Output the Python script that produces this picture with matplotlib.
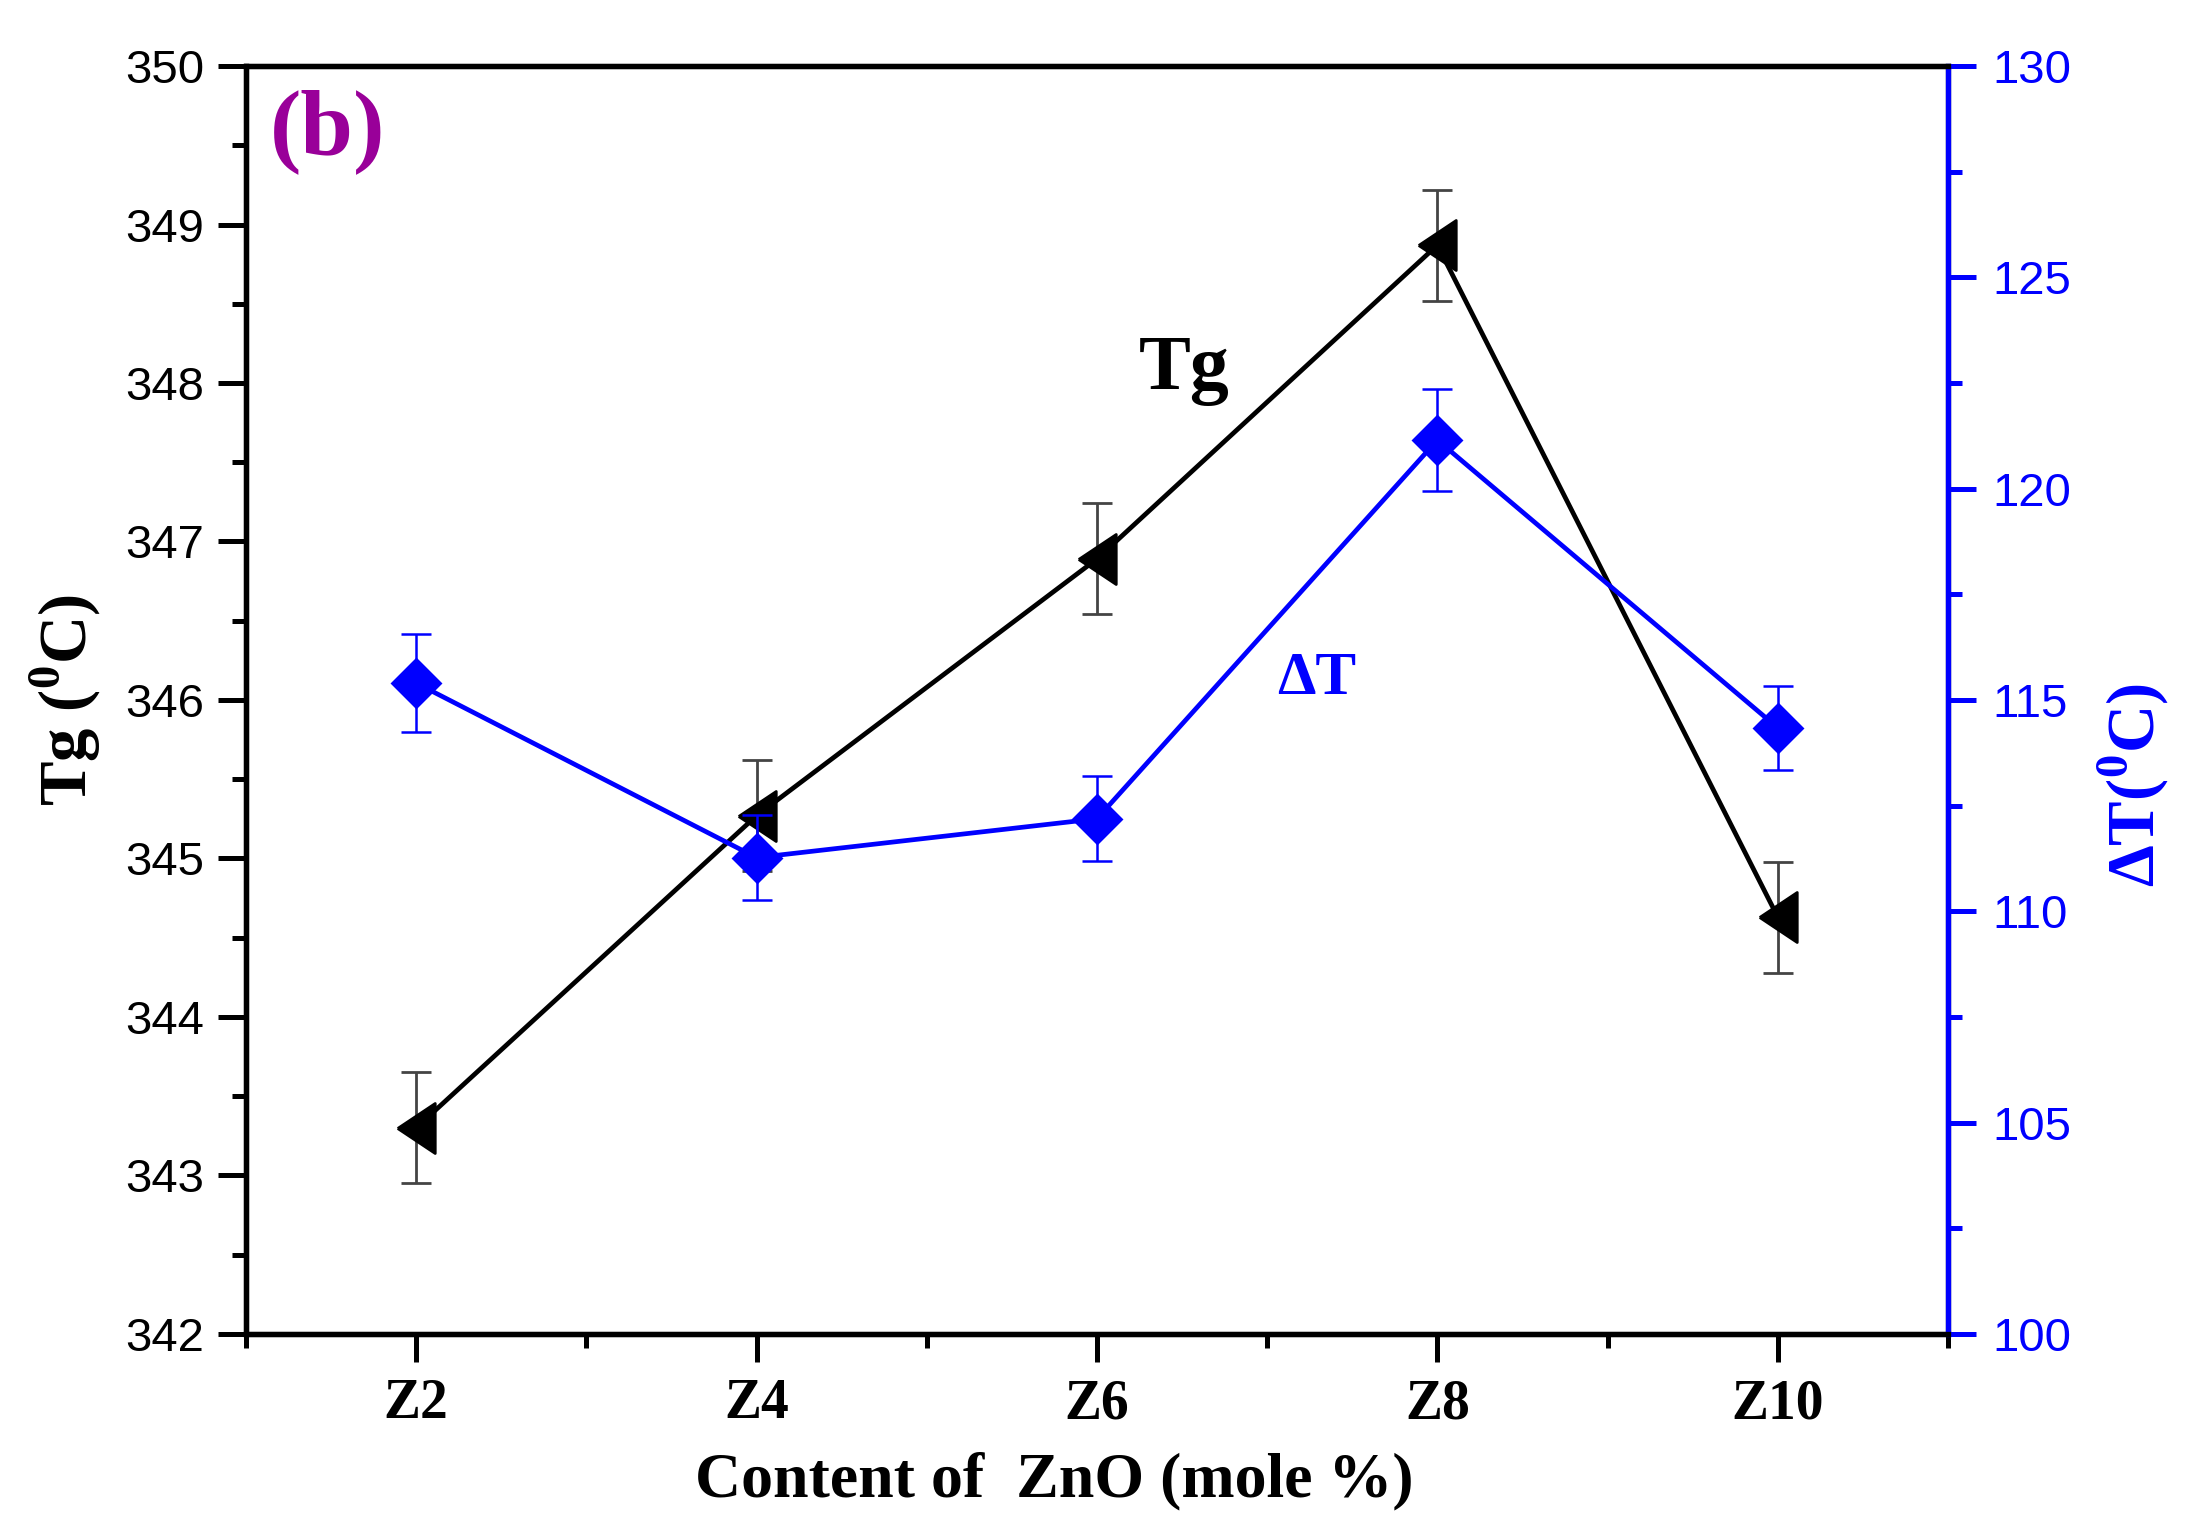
import matplotlib
matplotlib.use("Agg")
import matplotlib.pyplot as plt
from matplotlib.ticker import MultipleLocator

# data
samples = ["Z2", "Z4", "Z6", "Z8", "Z10"]
zno = [2, 4, 6, 8, 10]
tg = [343.30, 345.27, 346.89, 348.87, 344.63]
tg_err = [0.35, 0.35, 0.35, 0.35, 0.35]
dt = [115.40, 111.27, 112.19, 121.15, 114.34]
dt_err = [1.15, 1.0, 1.0, 1.2, 1.0]

plt.rcParams['mathtext.fontset'] = 'custom'
plt.rcParams['mathtext.rm'] = 'Liberation Serif:bold'
plt.rcParams['mathtext.bf'] = 'Liberation Serif:bold'

SERIF = 'Liberation Serif'
SANS = 'Liberation Sans'
BLUE = '#0000ff'

# left-pointing triangle, a bit taller than wide (Origin style)
tri_left = [(-0.75, 0), (0.75, 1), (0.75, -1), (-0.75, 0)]

fig = plt.figure(figsize=(10.95, 7.64), dpi=200)
ax = fig.add_axes([0.1123, 0.127, 0.7772, 0.8298])
ax2 = ax.twinx()

ax.errorbar(zno, tg, yerr=tg_err, color='black', lw=1.7, marker=tri_left, ms=18,
            ecolor='#444444', elinewidth=1.0, capsize=5.5, capthick=1.0, zorder=3)
ax2.errorbar(zno, dt, yerr=dt_err, color=BLUE, lw=1.7, marker='D', ms=12,
             ecolor=BLUE, elinewidth=0.9, capsize=5.5, capthick=0.9, zorder=3)

ax.set_xlim(1, 11)
ax.set_ylim(342, 350)
ax2.set_ylim(100, 130)
ax.set_xticks(zno)
ax.set_xticklabels(samples, fontfamily=SERIF, fontweight='bold', fontsize=20)
ax.xaxis.set_minor_locator(MultipleLocator(1))
ax.yaxis.set_major_locator(MultipleLocator(1))
ax.yaxis.set_minor_locator(MultipleLocator(0.5))
ax2.yaxis.set_major_locator(MultipleLocator(5))
ax2.yaxis.set_minor_locator(MultipleLocator(2.5))

for lab in ax.get_yticklabels():
    lab.set_fontfamily(SANS)
    lab.set_fontsize(17)
for lab in ax2.get_yticklabels():
    lab.set_fontfamily(SANS)
    lab.set_fontsize(17)
    lab.set_color(BLUE)

for a in (ax, ax2):
    for s in a.spines.values():
        s.set_linewidth(1.9)
ax2.spines['right'].set_color(BLUE)
ax.tick_params(which='major', direction='out', length=10, width=1.8, pad=5)
ax.tick_params(which='minor', direction='out', length=5, width=1.8)
ax.tick_params(axis='x', which='major', pad=6)
ax2.tick_params(which='major', direction='out', length=10, width=1.8, colors=BLUE, pad=6)
ax2.tick_params(which='minor', direction='out', length=5, width=1.8, colors=BLUE)

ax.set_xlabel("Content of  ZnO (mole %)", fontfamily=SERIF, fontweight='bold',
              fontsize=23)
ax.xaxis.set_label_coords(0.475, -0.093)
ax.set_ylabel(r"Tg ($^{\mathbf{0}}$C)", fontfamily=SERIF, fontweight='bold',
              fontsize=24, labelpad=8)
ax2.set_ylabel(r"$\Delta$T($^{\mathbf{0}}$C)", fontfamily=SERIF, fontweight='bold',
               fontsize=24, color=BLUE, rotation=90)
ax2.yaxis.set_label_coords(1.087, 0.433)

ax.text(6.51, 348.08, "Tg", fontfamily=SERIF, fontweight='bold', fontsize=28,
        ha='center', va='center')
ax.text(7.29, 346.13, "\u0394T", fontfamily=SERIF, fontweight='bold', fontsize=22,
        color=BLUE, ha='center', va='center')
ax.text(0.014, 0.982, "(b)", transform=ax.transAxes, fontfamily=SERIF,
        fontweight='bold', fontsize=34, color='#990099', ha='left', va='top')

fig.savefig("out.png", dpi=200)
